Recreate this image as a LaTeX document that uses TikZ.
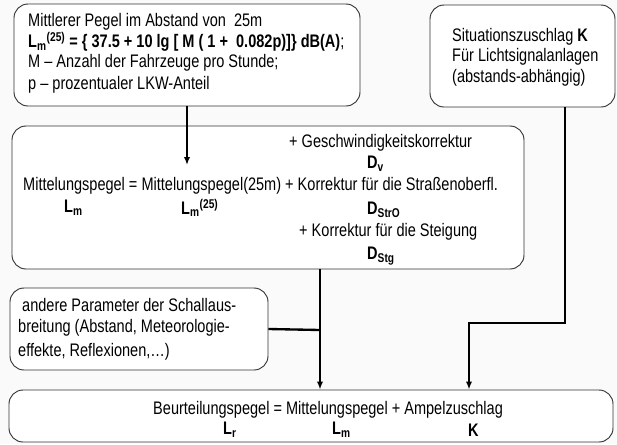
\documentclass[tikz,border=0pt]{standalone}
\usepackage{fontspec}
\setmainfont{Liberation Sans}[FakeStretch=0.8]
\usetikzlibrary{arrows.meta,positioning,calc}
\definecolor{boxLine}{HTML}{333333}
\definecolor{paperBg}{HTML}{FAFAFA}
\tikzset{
  box/.style={draw=boxLine, fill=white, rounded corners=12pt, line width=0.8pt,
    inner sep=0pt},
  txt/.style={anchor=west, inner sep=0pt, font=\fontsize{15.5}{17}\selectfont},
  sym/.style={anchor=west, inner sep=0pt, font=\fontsize{15.5}{17}\selectfont\bfseries},
  wire/.style={line width=2pt, black},
  arr/.style={-{Latex[length=2.4mm,width=1.9mm]}, line width=2pt, black}
}

\begin{document}
\begin{tikzpicture}[x=0.03cm,y=-0.03cm]
  % page = 617 x 444 px of the scan, y runs downwards
  \fill[paperBg] (0,0) rectangle (617,444);
  \useasboundingbox (0,0) rectangle (617,444);

  % boxes
  \node[box, minimum width=10.38cm, minimum height=3.06cm] (pegel) at (187,55) {};
  \node[box, minimum width=5.55cm, minimum height=3.06cm] (zuschlag) at (522.5,56) {};
  \node[box, minimum width=15.36cm, minimum height=4.29cm] (mittel) at (268,197.5) {};
  \node[box, minimum width=7.74cm, minimum height=2.46cm] (andere) at (139,329) {};
  \node[box, minimum width=18.12cm, minimum height=1.56cm] (beurt) at (311,416) {};

  % top left box
  \node[txt] (p1) at (28,22) {Mittlerer Pegel im Abstand von\ \ 25m};
  \node[sym] (p2) at (28,42) {L\textsubscript{m}\textsuperscript{(25)} = \{ 37.5 + 10 lg [ M ( 1 +\ \ 0.082p)]\} dB(A)\mdseries;};
  \node[txt] (p3) at (28,63) {M -- Anzahl der Fahrzeuge pro Stunde;};
  \node[txt] (p4) at (28,85) {p -- prozentualer LKW-Anteil};

  % top right box
  \node[txt] (z1) at (452,37) {Situationszuschlag \textbf{K}};
  \node[txt] (z2) at (452,57) {Für Lichtsignalanlagen};
  \node[txt] (z3) at (452,78) {(abstands-abhängig)};

  % middle box
  \node[txt] (m1) at (289,143) {+ Geschwindigkeitskorrektur};
  \node[sym] (dv) at (367,164) {D\textsubscript{v}};
  \node[txt] (m2) at (23,186) {Mittelungspegel = Mittelungspegel(25m) + Korrektur für die Straßenoberfl.};
  \node[sym] (lm) at (64,208) {L\textsubscript{m}};
  \node[sym] (lm25) at (181,208) {L\textsubscript{m}\textsuperscript{(25)}};
  \node[sym] (dstro) at (367,210) {D\textsubscript{StrO}};
  \node[txt] (m3) at (299,232) {+ Korrektur für die Steigung};
  \node[sym] (dstg) at (367,256) {D\textsubscript{Stg}};

  % lower left box
  \node[txt] (a1) at (22,305) {andere Parameter der Schallaus-};
  \node[txt] (a2) at (18,328) {breitung (Abstand, Meteorologie-};
  \node[txt] (a3) at (18,352) {effekte, Reflexionen,\ldots)};

  % bottom box
  \node[txt] (b1) at (153,410) {Beurteilungspegel = Mittelungspegel + Ampelzuschlag};
  \node[sym] (lr) at (223,430) {L\textsubscript{r}};
  \node[sym] (lmb) at (332,430) {L\textsubscript{m}};
  \node[sym] (kb) at (468,430) {K};

  % connectors
  \coordinate (tip) at (187,165);
  \coordinate (join) at (320,330);
  \coordinate (kdown) at (565,323);
  \coordinate (kleft) at (469,323);
  \draw[arr] (pegel.south) -- (tip);
  \draw[wire] (mittel.south -| join) -- (join);
  \draw[wire] (andere.east) -- (join);
  \draw[arr] (join) -- (join |- beurt.north);
  \draw[arr] (zuschlag.south -| kdown) -- (kdown) -- (kleft) -- (kleft |- beurt.north);
\end{tikzpicture}
\end{document}
